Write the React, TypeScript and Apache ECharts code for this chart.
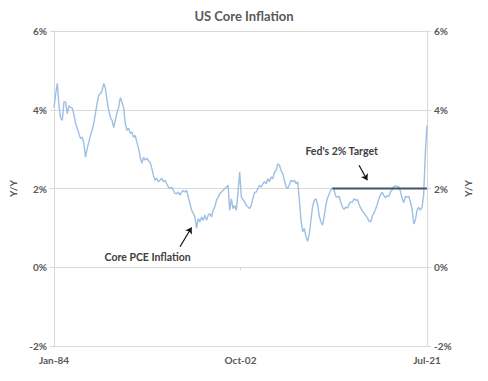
import React, { useEffect, useRef } from "react";
import * as echarts from "echarts";

// Core PCE inflation, Y/Y %, one reading every two months from Jan-84 to Jul-21
const coreStepMonths = 2;
const coreValues: number[] = [
  4.05, 4.4, 4.67, 4.1, 3.78, 3.73, 4.2, 4.2, 3.9, 4.1,
  4.06, 4.04, 3.88, 3.65, 3.53, 3.4, 3.27, 3.3, 3.15, 2.8,
  3.02, 3.17, 3.35, 3.48, 3.65, 3.9, 4.16, 4.37, 4.41, 4.49,
  4.67, 4.54, 4.24, 3.98, 3.81, 3.73, 3.55, 3.73, 3.93, 4.06,
  4.31, 4.19, 4.06, 3.65, 3.48, 3.53, 3.4, 3.43, 3.3, 3.35,
  3.17, 3.02, 2.79, 2.64, 2.79, 2.72, 2.77, 2.7, 2.67, 2.51,
  2.33, 2.21, 2.26, 2.17, 2.21, 2.26, 2.17, 2.21, 2.12, 2.04,
  2.0, 2.04, 1.95, 1.87, 1.87, 1.91, 1.83, 1.91, 1.95, 1.91,
  1.95, 1.78, 1.62, 1.45, 1.37, 1.28, 0.99, 1.24, 1.15, 1.28,
  1.19, 1.32, 1.19, 1.32, 1.36, 1.28, 1.45, 1.53, 1.7, 1.78,
  1.87, 1.91, 1.95, 2.0, 2.04, 2.08, 1.45, 1.74, 1.49, 1.57,
  1.45, 1.9, 2.42, 1.78, 1.72, 1.66, 1.57, 1.53, 1.49, 1.57,
  1.75, 1.9, 1.91, 2.0, 2.08, 2.04, 2.12, 2.17, 2.12, 2.25,
  2.17, 2.29, 2.25, 2.42, 2.46, 2.63, 2.59, 2.45, 2.38, 2.2,
  2.04, 2.0, 2.1, 2.21, 2.17, 2.21, 2.12, 2.17, 1.7, 1.2,
  0.9, 0.99, 0.77, 0.66, 0.85, 1.2, 1.55, 1.7, 1.74, 1.6,
  1.3, 1.15, 1.07, 1.3, 1.58, 1.76, 1.86, 1.97, 2.02, 1.95,
  1.8, 1.78, 1.8, 1.65, 1.52, 1.47, 1.53, 1.5, 1.6, 1.66,
  1.65, 1.74, 1.7, 1.72, 1.6, 1.5, 1.43, 1.38, 1.31, 1.26,
  1.17, 1.15, 1.3, 1.38, 1.48, 1.6, 1.74, 1.85, 1.9, 1.82,
  1.76, 1.82, 1.8, 1.92, 1.97, 2.05, 2.07, 2.04, 2.05, 1.92,
  1.75, 1.64, 1.8, 1.78, 1.8, 1.66, 1.47, 1.1, 1.2, 1.45,
  1.52, 1.45, 1.52, 1.85, 2.9, 3.6,
];

// Fed's 2% target, from Jan-12 (month 336 after Jan-84) to Jul-21 (month 450)
const targetMonths = [336, 450];
const targetValue = 2;

const xTickLabels = ["Jan-84", "Oct-02", "Jul-21"];
const xTickStep = 225;
const xMax = 450;
const yMin = -2;
const yMax = 6;
const yStep = 2;

const TEXT = "#595959";
const AXIS = "#d9d9d9";
const FONT = "Lato, 'Open Sans', sans-serif";

export default function App() {
  const ref = useRef<HTMLDivElement>(null);
  useEffect(() => {
    if (!ref.current) return;
    const chart = echarts.init(ref.current, null, { renderer: "svg" });
    const coreData = coreValues.map((v, i) => [i * coreStepMonths, v]);
    const targetData = targetMonths.map((m) => [m, targetValue]);
    const yAxisBase = {
      type: "value",
      min: yMin,
      max: yMax,
      interval: yStep,
      name: "Y/Y",
      nameLocation: "middle",
      nameGap: 36,
      nameTextStyle: { color: TEXT, fontSize: 10, fontWeight: "bold", fontFamily: FONT },
      axisLine: { show: true, lineStyle: { color: AXIS, width: 1 } },
      axisTick: { show: true, length: 4, lineStyle: { color: AXIS } },
      axisLabel: {
        formatter: "{value}%",
        color: TEXT,
        fontSize: 10,
        fontWeight: "bold",
        fontFamily: FONT,
        margin: 7,
      },
    };
    chart.setOption({
      animation: false,
      title: {
        text: "US Core Inflation",
        left: "center",
        top: 4,
        textStyle: { color: TEXT, fontSize: 13, fontWeight: "bold", fontFamily: FONT },
      },
      grid: { left: 54, right: 61, top: 31, bottom: 35 },
      xAxis: {
        type: "value",
        min: 0,
        max: xMax,
        interval: xTickStep,
        axisLine: { show: true, lineStyle: { color: AXIS, width: 1 } },
        axisTick: { show: true, length: 3, lineStyle: { color: AXIS } },
        splitLine: { show: false },
        axisLabel: {
          formatter: (v: number) => xTickLabels[Math.round(v / xTickStep)] ?? "",
          color: TEXT,
          fontSize: 10,
          fontWeight: "bold",
          fontFamily: FONT,
          margin: 9,
        },
      },
      yAxis: [
        {
          ...yAxisBase,
          position: "left",
          splitLine: { show: true, lineStyle: { color: AXIS, width: 1 } },
        },
        {
          ...yAxisBase,
          position: "right",
          splitLine: { show: false },
        },
      ],
      series: [
        {
          type: "line",
          data: coreData,
          showSymbol: false,
          symbol: "none",
          lineStyle: { color: "#9dbfe4", width: 1.4 },
          markLine: {
            silent: true,
            symbol: ["none", "arrow"],
            symbolSize: 6,
            lineStyle: { color: "#111111", width: 1.2, type: "solid" },
            label: { show: false },
            data: [
              [{ coord: [152, 0.52] }, { coord: [166, 1.01] }],
              [{ coord: [368, 2.59] }, { coord: [378, 2.21] }],
            ],
          },
          markPoint: {
            silent: true,
            symbol: "circle",
            symbolSize: 0,
            label: {
              show: true,
              position: "inside",
              formatter: "{b}",
              color: "#404040",
              fontSize: 10.5,
              fontWeight: "bold",
              fontFamily: FONT,
            },
            data: [
              { name: "Core PCE Inflation", coord: [113, 0.25] },
              { name: "Fed's 2% Target", coord: [347, 2.94] },
            ],
          },
        },
        {
          type: "line",
          data: targetData,
          showSymbol: false,
          symbol: "none",
          lineStyle: { color: "#44546a", width: 2 },
        },
      ],
    });
    return () => chart.dispose();
  }, []);
  return (
    <div
      ref={ref}
      style={{ position: "absolute", left: 0, top: 0, width: 488, height: 381 }}
    />
  );
}
